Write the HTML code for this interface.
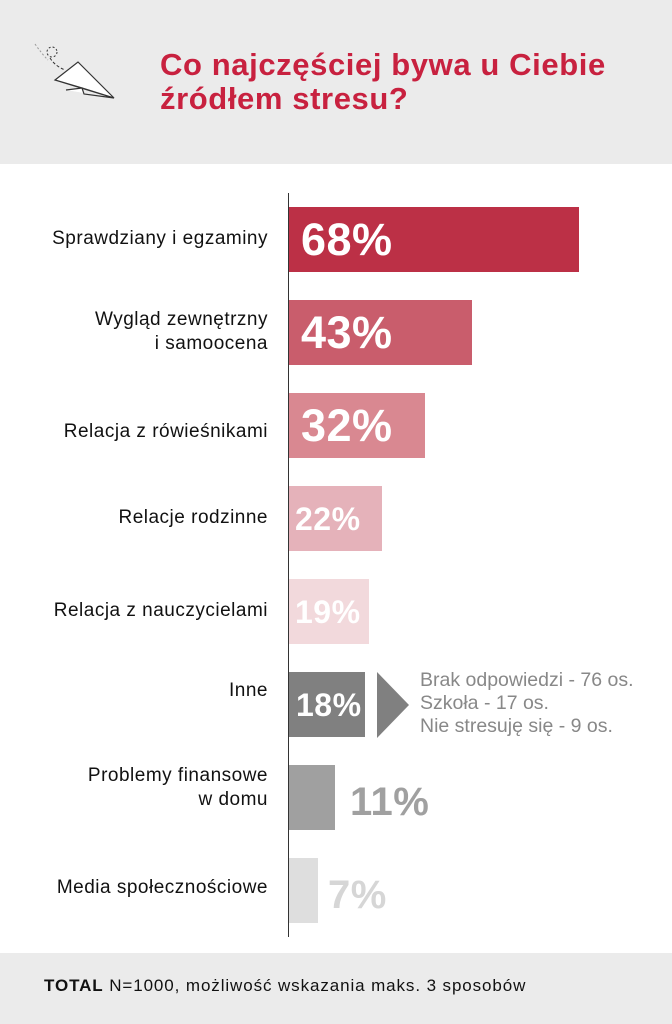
<!DOCTYPE html>
<html><head><meta charset="utf-8"><style>
body{margin:0;width:672px;height:1024px;position:relative;background:#fff;font-family:"Liberation Sans","DejaVu Sans",sans-serif;overflow:hidden}
.a{position:absolute}
.hdr{left:0;top:0;width:672px;height:164px;background:#ebebeb}
.ttl{left:160px;top:48px;color:#c8213f;font-weight:bold;font-size:31px;line-height:34px;letter-spacing:0.6px}
.lab{right:404px;text-align:right;font-size:19px;line-height:24px;color:#111;letter-spacing:0.5px}
.bar{left:289px;height:65px}
.p{font-weight:bold;color:#fff;letter-spacing:0.5px}
.ftr{left:0;top:953px;width:672px;height:71px;background:#ebebeb}
</style></head><body>
<div class="a hdr"></div>
<svg class="a" style="left:30px;top:40px" width="90" height="62">
<path d="M5 4 Q12 14 18 20" stroke="#999" fill="none" stroke-dasharray="2 2"/>
<circle cx="22" cy="12" r="5" fill="none" stroke="#333" stroke-dasharray="2 2"/>
<path d="M20 18 Q25 26 35 30" stroke="#333" fill="none" stroke-dasharray="3 2"/>
<path d="M25 40 L48 22 L84 58 Z M25 40 L52 48 L84 58 M36 50 L52 48 L54 54 L84 58" fill="#fff" stroke="#333" stroke-width="1.2"/>
</svg>
<div class="a ttl">Co najczęściej bywa u Ciebie<br>źródłem stresu?</div>
<div class="a" style="left:288px;top:193px;width:1px;height:744px;background:#333"></div>

<div class="a lab" style="top:227px">Sprawdziany i egzaminy</div>
<div class="a bar" style="top:207px;width:290px;background:#bc3046"></div>
<div class="a p" style="left:301px;top:214px;font-size:45px">68%</div>

<div class="a lab" style="top:308px">Wygląd zewnętrzny<br>i samoocena</div>
<div class="a bar" style="top:300px;width:183px;background:#c95d6c"></div>
<div class="a p" style="left:301px;top:307px;font-size:45px">43%</div>

<div class="a lab" style="top:420px">Relacja z rówieśnikami</div>
<div class="a bar" style="top:393px;width:136px;background:#d98891"></div>
<div class="a p" style="left:301px;top:400px;font-size:45px">32%</div>

<div class="a lab" style="top:506px">Relacje rodzinne</div>
<div class="a bar" style="top:486px;width:93px;background:#e5b2ba"></div>
<div class="a p" style="left:295px;top:501px;font-size:32px">22%</div>

<div class="a lab" style="top:599px">Relacja z nauczycielami</div>
<div class="a bar" style="top:579px;width:80px;background:#f2d9dc"></div>
<div class="a p" style="left:295px;top:594px;font-size:32px">19%</div>

<div class="a lab" style="top:679px">Inne</div>
<div class="a bar" style="top:672px;width:76px;background:#808080"></div>
<div class="a p" style="left:296px;top:687px;font-size:32px">18%</div>
<svg class="a" style="left:377px;top:672px" width="33" height="66"><path d="M0 0 L32 33 L0 66Z" fill="#808080"/></svg>
<div class="a" style="left:420px;top:669px;font-size:19.5px;line-height:23px;color:#888">Brak odpowiedzi - 76 os.<br>Szkoła - 17 os.<br>Nie stresuję się - 9 os.</div>

<div class="a lab" style="top:764px">Problemy finansowe<br>w domu</div>
<div class="a bar" style="top:765px;width:46px;background:#a0a0a0"></div>
<div class="a p" style="left:350px;top:780px;font-size:40px;color:#a0a0a0">11%</div>

<div class="a lab" style="top:876px">Media społecznościowe</div>
<div class="a bar" style="top:858px;width:29px;background:#dedede"></div>
<div class="a p" style="left:328px;top:873px;font-size:40px;color:#d6d6d6">7%</div>

<div class="a ftr"></div>
<div class="a" style="left:44px;top:976px;font-size:17px;color:#111;letter-spacing:0.9px"><b>TOTAL</b> N=1000, możliwość wskazania maks. 3 sposobów</div>
</body></html>
